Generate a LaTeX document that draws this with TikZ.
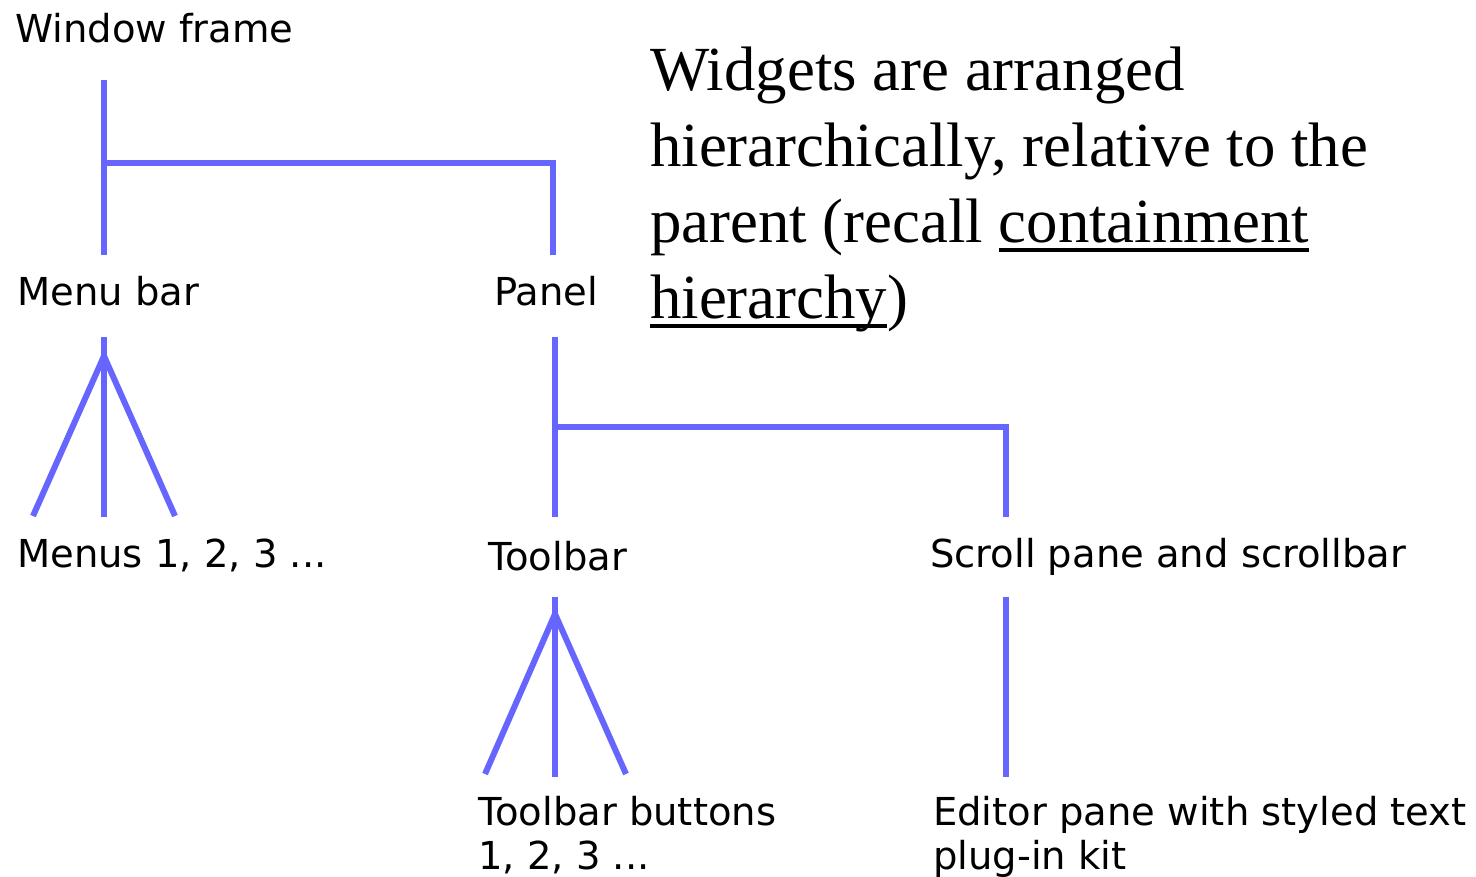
\documentclass[tikz,border=0pt]{standalone}
\usepackage{fontspec}
\setmainfont{Liberation Serif}
\newfontfamily\labelfont{DejaVu Sans}
\newsavebox\ulbox
% thick underline set a little below the baseline
\newcommand\ulword[1]{\leavevmode\sbox\ulbox{#1}\rlap{\rule[-10pt]{\wd\ulbox}{4pt}}\usebox\ulbox}
\definecolor{treeblue}{RGB}{102,102,255}
\tikzset{
  lbl/.style={inner sep=0pt, anchor=base west, font=\labelfont\fontsize{38.5}{44}\selectfont},
  tree/.style={draw=treeblue, line width=6pt, line cap=butt, line join=miter},
}
\begin{document}
\begin{tikzpicture}[x=1pt,y=-1pt]
\useasboundingbox (0,0) rectangle (1476,876);

% labels of the widget tree
\node[lbl] (wf) at (15,42) {Window frame};
\node[lbl] (mb) at (17,305) {Menu bar};
\node[lbl] (pn) at (494,305) {Panel};
\node[lbl] (mn) at (17,567) {Menus 1, 2, 3 ...};
\node[lbl] (tb) at (488,570) {Toolbar};
\node[lbl] (sp) at (930,567) {Scroll pane and scrollbar};
\node[lbl] (bt) at (478,825) {\parbox[t]{400pt}{\raggedright Toolbar buttons\\1, 2, 3 ...}};
\node[lbl] (ed) at (933,825) {\parbox[t]{560pt}{\raggedright Editor pane with styled text\\plug-in kit}};

% explanatory note
\node[inner sep=0pt, anchor=base west] (note) at (650,90)
  {\parbox[t]{820pt}{\fontsize{62.8}{76}\selectfont\raggedright
   Widgets are arranged\\
   hierarchically, relative to the\\
   parent (recall \ulword{containment}\\
   \ulword{hierarchy})}};

% connector ports
\coordinate (wf-out) at (104,80);
\coordinate (wf-split) at (104,163);
\coordinate (mb-in) at (104,255);
\coordinate (pn-in) at (553,255);
\coordinate (mb-out) at (104,337);
\coordinate (mb-fan) at (104,356);
\coordinate (mn-in1) at (33,516);
\coordinate (mn-in2) at (104,517);
\coordinate (mn-in3) at (175,516);
\coordinate (pn-out) at (555,337);
\coordinate (pn-split) at (555,427);
\coordinate (tb-in) at (555,517);
\coordinate (sp-in) at (1006,517);
\coordinate (tb-out) at (555,597);
\coordinate (tb-fan) at (555,614);
\coordinate (bt-in1) at (485,774);
\coordinate (bt-in2) at (555,777);
\coordinate (bt-in3) at (626,774);
\coordinate (sp-out) at (1006,597);
\coordinate (ed-in) at (1006,777);

% Window frame -> Menu bar, Panel
\draw[tree] (wf-out) -- (mb-in);
\draw[tree] (wf-split) -| (pn-in);
% Menu bar -> Menus
\draw[tree] (mb-out) -- (mn-in2);
\draw[tree] (mn-in1) -- (mb-fan) -- (mn-in3);
% Panel -> Toolbar, Scroll pane
\draw[tree] (pn-out) -- (tb-in);
\draw[tree] (pn-split) -| (sp-in);
% Toolbar -> buttons
\draw[tree] (tb-out) -- (bt-in2);
\draw[tree] (bt-in1) -- (tb-fan) -- (bt-in3);
% Scroll pane -> Editor pane
\draw[tree] (sp-out) -- (ed-in);
\end{tikzpicture}
\end{document}
